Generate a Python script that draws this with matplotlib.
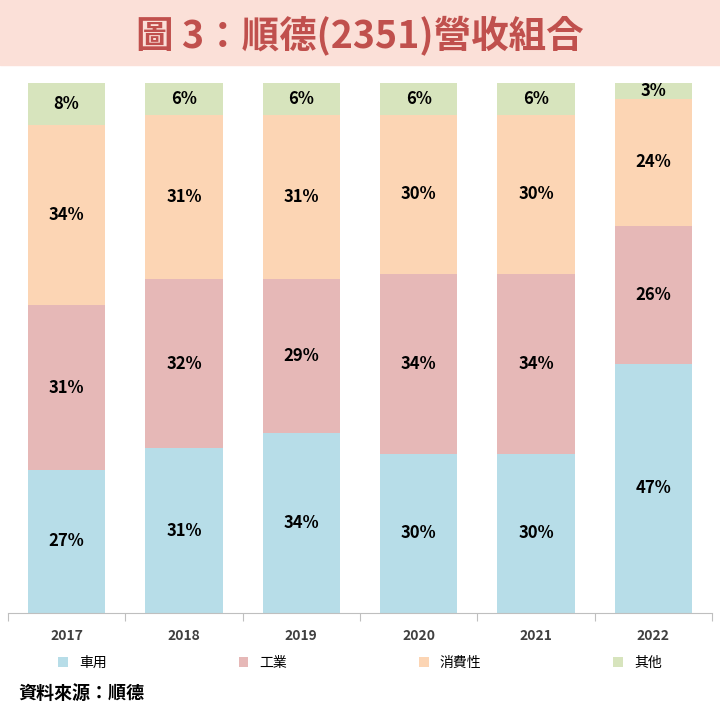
import matplotlib.pyplot as plt
from matplotlib.patches import Rectangle

plt.rcParams['font.family'] = ['Noto Sans CJK JP', 'Noto Sans CJK TC', 'Noto Sans CJK SC', 'DejaVu Sans']

years = ['2017', '2018', '2019', '2020', '2021', '2022']
car = [27, 31, 34, 30, 30, 47]
industry = [31, 32, 29, 34, 34, 26]
consumer = [34, 31, 31, 30, 30, 24]
other = [8, 6, 6, 6, 6, 3]
names = ['車用', '工業', '消費性', '其他']
colors = ['#b7dde8', '#e6b8b7', '#fcd5b4', '#d7e4bd']

fig = plt.figure(figsize=(7.2, 7.2), dpi=100)
fig.patches.append(Rectangle((0, 1 - 65 / 720), 1, 65 / 720, transform=fig.transFigure,
                             color='#fbe0d8', zorder=0))
fig.text(0.5, 1 - 35 / 720, '圖 3：順德(2351)營收組合', ha='center', va='center',
         fontsize=27, fontweight='bold', color='#c0504d')

ax = fig.add_axes([0.011, 0.149, 0.978, 0.736])
x = range(len(years))
bottom = [0] * len(years)
for vals, name, c in zip([car, industry, consumer, other], names, colors):
    ax.bar(x, vals, bottom=bottom, width=0.66, color=c, label=name)
    for i, v in enumerate(vals):
        ax.text(i, bottom[i] + v / 2, f'{v}%', ha='center', va='center',
                fontsize=12, fontweight='bold', color='black')
    bottom = [b + v for b, v in zip(bottom, vals)]

ax.set_xlim(-0.5, len(years) - 0.5)
ax.set_ylim(0, 100)
ax.set_yticks([])
for s in ['top', 'right', 'left']:
    ax.spines[s].set_visible(False)
ax.spines['bottom'].set_color('#bfbfbf')
ax.set_xticks([i + 0.5 for i in range(-1, len(years))], minor=False)
ax.set_xticklabels([])
ax.tick_params(axis='x', length=6, color='#bfbfbf')
ax.set_xticks(list(x), minor=True)
ax.set_xticklabels(years, minor=True, fontsize=10, fontweight='bold', color='#404040')
ax.tick_params(axis='x', which='minor', length=0, pad=12)

ax.legend(loc='center', bbox_to_anchor=(0.5, -0.095), ncol=4, frameon=False,
          fontsize=10, handlelength=0.7, handleheight=0.7, columnspacing=9.5)
fig.text(0.025, 1 - 693 / 720, '資料來源：順德', ha='left', va='center',
         fontsize=13, fontweight='bold')

fig.savefig('out.png', dpi=100)
